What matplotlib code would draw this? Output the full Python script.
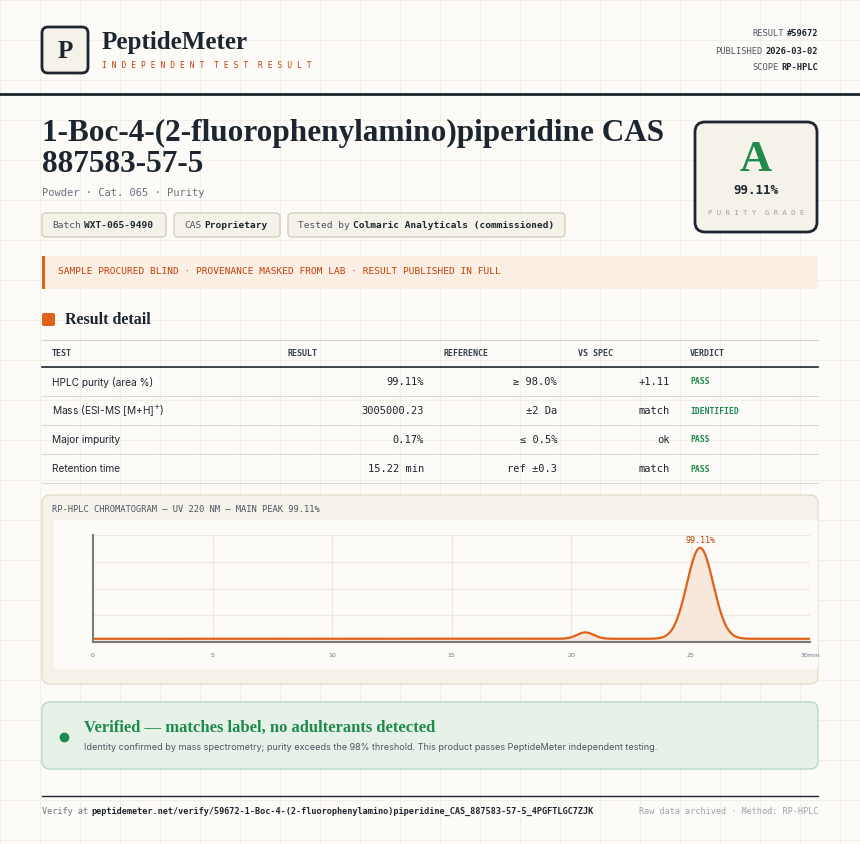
import numpy as np
import matplotlib.pyplot as plt
from matplotlib.patches import FancyBboxPatch, Rectangle

# ---- data ----
tests = ["HPLC purity (area %)", "Mass (ESI-MS [M+H]$^{+}$)", "Major impurity", "Retention time"]
results = ["99.11%", "3005000.23", "0.17%", "15.22 min"]
references = ["≥ 98.0%", "±2 Da", "≤ 0.5%", "ref ±0.3"]
vs_spec = ["+1.11", "match", "ok", "match"]
verdicts = ["PASS", "IDENTIFIED", "PASS", "PASS"]

peak_times = [20.6, 25.4]
peak_heights = [6.0, 85.0]
peak_widths = [0.35, 0.55]
baseline = 3.0
x_ticks = [0, 5, 10, 15, 20, 25, 30]
x_tick_labels = ["0", "5", "10", "15", "20", "25", "30min"]

W, H = 860, 844
BG = "#fcfbf7"
INK = "#1c2530"
ORANGE = "#e0611a"
GREEN = "#1e8a4c"
MUTED = "#6b7280"
SERIF = ["Liberation Serif", "DejaVu Serif"]
MONO = ["DejaVu Sans Mono"]
SANS = ["Inter", "DejaVu Sans"]

fig = plt.figure(figsize=(W / 100, H / 100), dpi=100, facecolor=BG)
ax = fig.add_axes([0, 0, 1, 1])
ax.set_xlim(0, W)
ax.set_ylim(H, 0)
ax.axis("off")
renderer = fig.canvas.get_renderer()

# background grid
for gx in range(0, W, 40):
    ax.axvline(gx, color="#f1efe8", lw=0.8, zorder=0)
for gy in range(0, H, 40):
    ax.axhline(gy, color="#f1efe8", lw=0.8, zorder=0)


def box(x, y, w, h, fc, ec, lw=1.0, r=4, z=1):
    ax.add_patch(FancyBboxPatch((x, y), w, h, boxstyle=f"round,pad=0,rounding_size={r}",
                                fc=fc, ec=ec, lw=lw, zorder=z))


def t(x, y, s, size=9, color=INK, family=MONO, weight="normal", ha="left", va="center", **kw):
    return ax.text(x, y, s, fontsize=size, color=color, family=family, weight=weight,
                   ha=ha, va=va, zorder=5, **kw)


def width(txt):
    return txt.get_window_extent(renderer).width


def pair(x, y, lab, val, size, lc, vc, ha="left"):
    # label + bold value, placed side by side
    if ha == "left":
        a = t(x, y, lab, size, lc)
        t(x + width(a) + 3, y, val, size, vc, weight="bold")
    else:
        b = t(x, y, val, size, vc, weight="bold", ha="right")
        t(x - width(b) - 3, y, lab, size, lc, ha="right")


# header
box(42, 27, 46, 46, "#f5f2ea", INK, lw=2, r=6)
t(65, 51, "P", 18, INK, SERIF, "bold", ha="center")
t(102, 42, "PeptideMeter", 18, INK, SERIF, "bold")
t(102, 65, "I N D E P E N D E N T  T E S T  R E S U L T", 5.8, "#c2410c")
pair(818, 34, "RESULT", "#59672", 6.3, "#4b5563", INK, ha="right")
pair(818, 51, "PUBLISHED", "2026-03-02", 6.3, "#4b5563", INK, ha="right")
pair(818, 68, "SCOPE", "RP-HPLC", 6.3, "#4b5563", INK, ha="right")
ax.plot([0, W], [94, 94], color=INK, lw=2, zorder=3)

# title
t(42, 133, "1-Boc-4-(2-fluorophenylamino)piperidine CAS", 22.5, INK, SERIF, "bold")
t(42, 164, "887583-57-5", 22.5, INK, SERIF, "bold")
t(42, 193, "Powder · Cat. 065 · Purity", 7.5, MUTED)
chips = [(42, 124, "Batch", "WXT-065-9490"), (174, 106, "CAS", "Proprietary"),
         (288, 277, "Tested by", "Colmaric Analyticals (commissioned)")]
for cx, cw, lab, val in chips:
    box(cx, 213, cw, 24, "#f5f2ea", "#d6cfbd", r=4)
    pair(cx + 10, 225, lab, val, 6.8, "#4b5563", INK)

# grade card
box(695, 122, 122, 110, "#f5f2ea", INK, lw=2, r=10)
t(756, 160, "A", 32, GREEN, SERIF, "bold", ha="center")
t(756, 191, "99.11%", 9, INK, weight="bold", ha="center")
t(756, 213, "P U R I T Y  G R A D E", 5.2, "#9ca3af", ha="center")

# banner
ax.add_patch(Rectangle((42, 256), 776, 33, fc="#fbeee3", ec="none", zorder=1))
ax.add_patch(Rectangle((42, 256), 3, 33, fc=ORANGE, ec="none", zorder=2))
t(58, 272, "SAMPLE PROCURED BLIND · PROVENANCE MASKED FROM LAB · RESULT PUBLISHED IN FULL", 6.8, "#c2410c")

# section title
box(42, 313, 13, 13, ORANGE, "none", r=2)
t(65, 320, "Result detail", 11.5, INK, SERIF, "bold")

# table
cols = [(52, "TEST"), (288, "RESULT"), (443, "REFERENCE"), (578, "VS SPEC"), (690, "VERDICT")]
for cx, lab in cols:
    t(cx, 353, lab, 6, "#374151", weight="bold")
ax.plot([42, 818], [340, 340], color="#d8d4c8", lw=0.8)
ax.plot([42, 818], [367, 367], color=INK, lw=1.2)
for i in range(len(tests)):
    yy = 382 + 29 * i
    t(52, yy, tests[i], 7.3, INK, SANS)
    t(424, yy, results[i], 7.5, INK, ha="right")
    t(557, yy, references[i], 7.5, INK, ha="right")
    t(670, yy, vs_spec[i], 7.5, INK, ha="right")
    t(690, yy, verdicts[i], 5.8, GREEN, weight="bold")
    ax.plot([42, 818], [yy + 14, yy + 14], color="#dcd8cc", lw=0.8)

# chromatogram card
box(42, 495, 776, 189, "#f5f2ea", "#e3ddcc", r=8)
t(52, 510, "RP-HPLC CHROMATOGRAM — UV 220 NM — MAIN PEAK 99.11%", 6.3, "#4b5563")
ax.add_patch(Rectangle((54, 520), 764, 149, fc=BG, ec="none", zorder=2))

cax = fig.add_axes([93 / W, 1 - 642 / H, (810 - 93) / W, (642 - 535) / H])
cax.set_facecolor(BG)
rt = np.linspace(0, 30, 1200)
signal = np.full_like(rt, baseline)
for pt, ph, pw in zip(peak_times, peak_heights, peak_widths):
    signal += ph * np.exp(-0.5 * ((rt - pt) / pw) ** 2)
cax.fill_between(rt, 0, signal, color="#f7e4d4", alpha=0.8, lw=0)
cax.plot(rt, signal, color=ORANGE, lw=1.6)
cax.set_xlim(0, 30)
cax.set_ylim(0, 100)
cax.set_xticks(x_ticks, x_tick_labels)
cax.set_yticks([25, 50, 75, 100])
cax.set_yticklabels([])
cax.grid(True, color="#ece8dd", lw=0.8)
cax.tick_params(length=0, labelsize=4.5, colors="#6b7280", pad=8)
for sp in ["top", "right"]:
    cax.spines[sp].set_visible(False)
for sp in ["left", "bottom"]:
    cax.spines[sp].set_color("#7a7a7a")
    cax.spines[sp].set_linewidth(1.5)
main = int(np.argmax(peak_heights))
cax.text(peak_times[main], baseline + peak_heights[main] + 3, "99.11%", fontsize=6,
         family=MONO, color="#c2410c", ha="center", va="bottom")

# verified box
box(42, 702, 776, 67, "#e6f1e8", "#b9d9c1", r=8)
ax.plot(64, 737, "o", color=GREEN, ms=6, zorder=5)
t(84, 728, "Verified — matches label, no adulterants detected", 12, GREEN, SERIF, "bold")
t(84, 748, "Identity confirmed by mass spectrometry; purity exceeds the 98% threshold. "
           "This product passes PeptideMeter independent testing.", 6.5, "#4b5563", SANS)

# footer
ax.plot([42, 818], [796, 796], color=INK, lw=1)
pair(42, 811, "Verify at",
     "peptidemeter.net/verify/59672-1-Boc-4-(2-fluorophenylamino)piperidine_CAS_887583-57-5_4PGFTLGC7ZJK",
     6.1, MUTED, INK)
t(818, 811, "Raw data archived · Method: RP-HPLC", 6.1, "#9ca3af", ha="right")

fig.savefig("out.png", dpi=100, facecolor=BG)
